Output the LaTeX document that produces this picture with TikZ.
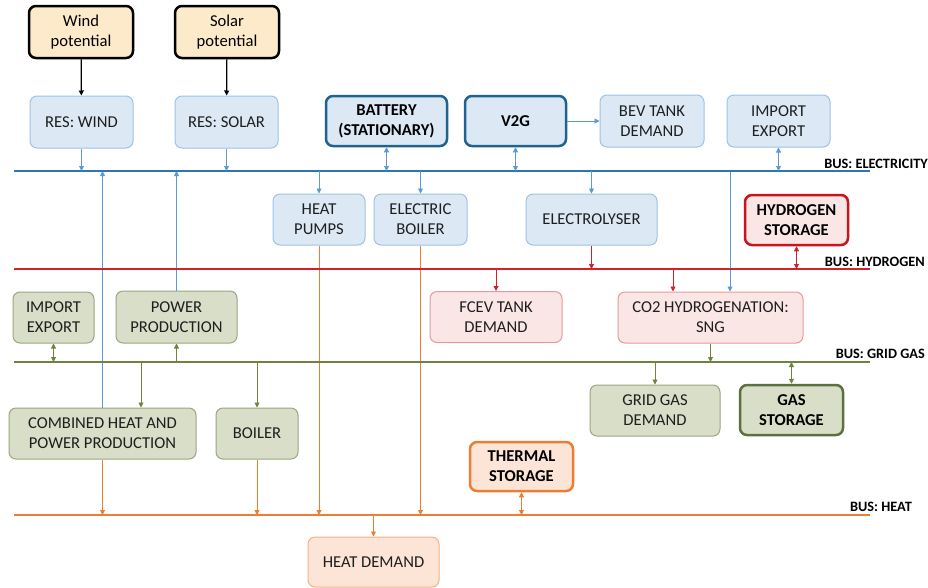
\documentclass[tikz,border=0pt]{standalone}
\usepackage{fontspec}
\setmainfont{Carlito}
\usetikzlibrary{arrows.meta}
\definecolor{elec}{HTML}{2E75B6}
\definecolor{elecl}{HTML}{5B9BD5}
\definecolor{hyd}{HTML}{D42027}
\definecolor{gas}{HTML}{6F8240}
\definecolor{heat}{HTML}{ED7D31}
\definecolor{bluefill}{HTML}{DCE9F5}
\definecolor{blueedge}{HTML}{9DC3E6}
\definecolor{blueedgeD}{HTML}{1F6391}
\definecolor{greenfill}{HTML}{D8DEC8}
\definecolor{greenedge}{HTML}{9AA77F}
\definecolor{greenedgeD}{HTML}{5E7040}
\definecolor{pinkfill}{HTML}{FBE6E6}
\definecolor{pinkedge}{HTML}{E49A9A}
\definecolor{pinkedgeD}{HTML}{C8151C}
\definecolor{orfill}{HTML}{FCE4D6}
\definecolor{oredge}{HTML}{F4B183}
\definecolor{tanfill}{HTML}{FCEACB}
\definecolor{txt}{HTML}{1E1E1E}
\tikzset{
  box/.style={rounded corners=7pt, align=center, font=\fontsize{16.6}{20}\selectfont, text=txt, inner sep=2pt},
  bluebox/.style={box, fill=bluefill, draw=blueedge, line width=1pt},
  blueboxD/.style={box, fill=bluefill, draw=blueedgeD, line width=2.5pt, font=\fontsize{16.6}{20}\selectfont\bfseries, text=black},
  greenbox/.style={box, fill=greenfill, draw=greenedge, line width=1pt},
  greenboxD/.style={box, fill=greenfill, draw=greenedgeD, line width=2.5pt, font=\fontsize{16.6}{20}\selectfont\bfseries, text=black},
  pinkbox/.style={box, fill=pinkfill, draw=pinkedge, line width=1pt},
  pinkboxD/.style={box, fill=pinkfill, draw=pinkedgeD, line width=2.5pt, font=\fontsize{16.6}{20}\selectfont\bfseries, text=black},
  orbox/.style={box, fill=orfill, draw=oredge, line width=1pt},
  orboxD/.style={box, fill=orfill, draw=heat, line width=2.5pt, font=\fontsize{16.6}{20}\selectfont\bfseries, text=black},
  tanbox/.style={box, fill=tanfill, draw=black, line width=2.5pt, text=black},
  bus/.style={line width=2.7pt},
  buslabel/.style={font=\fontsize{14.3}{15}\selectfont\bfseries, text=black, inner sep=0pt, anchor=south east},
  tip/.style={-{Triangle[length=5pt,width=5pt]}},
  dtip/.style={{Triangle[length=5pt,width=5pt]}-{Triangle[length=5pt,width=5pt]}},
  con/.style={line width=0.9pt},
}
\begin{document}
\begin{tikzpicture}[x=1pt,y=-1pt]
\useasboundingbox (0,0) rectangle (928,587);
\fill[white] (0,0) rectangle (928,587);

% buses
\coordinate (eL) at (14,171);  \coordinate (eR) at (870,171);
\coordinate (hL) at (14,269);  \coordinate (hR) at (870,269);
\coordinate (gL) at (14,362);  \coordinate (gR) at (870,362);
\coordinate (tL) at (14,515);  \coordinate (tR) at (870,515);

% boxes
\node[tanbox, minimum width=104pt, minimum height=52pt] (windp) at (81,32) {Wind\\potential};
\node[tanbox, minimum width=104pt, minimum height=52pt] (solarp) at (227,32) {Solar\\potential};

\node[bluebox, minimum width=103pt, minimum height=52pt] (wind) at (81.5,122) {RES: WIND};
\node[bluebox, minimum width=103pt, minimum height=52pt] (solar) at (226.5,122) {RES: SOLAR};
\node[blueboxD, minimum width=121pt, minimum height=50pt] (batt) at (386.5,121) {BATTERY\\(STATIONARY)};
\node[blueboxD, minimum width=101pt, minimum height=50pt] (v2g) at (515.5,121) {V2G};
\node[bluebox, minimum width=104pt, minimum height=52pt] (bev) at (652,121) {BEV TANK\\DEMAND};
\node[bluebox, minimum width=103pt, minimum height=52pt] (impe) at (778.5,121) {IMPORT\\EXPORT};

\node[bluebox, minimum width=92pt, minimum height=51pt] (hp) at (319,219.5) {HEAT\\PUMPS};
\node[bluebox, minimum width=93pt, minimum height=51pt] (eb) at (420.5,219.5) {ELECTRIC\\BOILER};
\node[bluebox, minimum width=131pt, minimum height=51pt] (ely) at (591.5,219.5) {ELECTROLYSER};
\node[pinkboxD, minimum width=103pt, minimum height=50pt] (h2s) at (796.5,220) {HYDROGEN\\STORAGE};

\node[greenbox, minimum width=81pt, minimum height=51pt] (gimp) at (53.5,317.5) {IMPORT\\EXPORT};
\node[greenbox, minimum width=121pt, minimum height=52pt] (pp) at (176.5,317) {POWER\\PRODUCTION};
\node[pinkbox, minimum width=132pt, minimum height=51pt] (fcev) at (496,317) {FCEV TANK\\DEMAND};
\node[pinkbox, minimum width=185pt, minimum height=51pt] (co2) at (710.5,317.5) {CO2 HYDROGENATION:\\SNG};

\node[greenbox, minimum width=187pt, minimum height=51pt] (chp) at (102.5,433.5) {COMBINED HEAT AND\\POWER PRODUCTION};
\node[greenbox, minimum width=82pt, minimum height=51pt] (boil) at (257,433.5) {BOILER};
\node[greenbox, minimum width=130pt, minimum height=51pt] (ggd) at (655,410.5) {GRID GAS\\DEMAND};
\node[greenboxD, minimum width=103pt, minimum height=50pt] (gst) at (791.5,410) {GAS\\STORAGE};
\node[orboxD, minimum width=103pt, minimum height=49pt] (tst) at (521.5,466.5) {THERMAL\\STORAGE};
\node[orbox, minimum width=131pt, minimum height=50pt] (hd) at (373.5,562) {HEAT DEMAND};

% vertical long lines (drawn below buses)
\draw[con, elecl, tip] (chp.north) -- (chp.north |- eL);
\draw[con, elecl, tip] (pp.north) -- (pp.north |- eL);
\draw[con, heat, tip] (hp.south) -- (hp.south |- tL);
\draw[con, heat, tip] (eb.south) -- (eb.south |- tL);
\coordinate (co2top) at (730,171);
\draw[con, elecl, tip] (co2top) -- (co2top |- co2.north);

% buses
\draw[bus, elec] (eL) -- (eR);
\draw[bus, hyd] (hL) -- (hR);
\draw[bus, gas] (gL) -- (gR);
\draw[bus, heat] (tL) -- (tR);
\node[buslabel] (lbe) at (928,169) {BUS: ELECTRICITY};
\node[buslabel] (lbh) at (925,267) {BUS: HYDROGEN};
\node[buslabel] (lbg) at (925,359) {BUS: GRID GAS};
\node[buslabel] (lbt) at (912,512) {BUS: HEAT};

% potentials
\draw[line width=1.3pt, black, tip] (windp) -- (wind);
\draw[line width=1.3pt, black, tip] (solarp) -- (solar);

% electricity connections
\draw[con, elecl, tip] (wind.south) -- (wind.south |- eL);
\draw[con, elecl, tip] (solar.south) -- (solar.south |- eL);
\draw[con, elecl, dtip] (batt.south) -- (batt.south |- eL);
\draw[con, elecl, dtip] (v2g.south) -- (v2g.south |- eL);
\draw[con, elecl, dtip] (impe.south) -- (impe.south |- eL);
\draw[con, elecl, tip] (v2g.east) -- (bev.west);
\draw[con, elecl, tip] (hp.north |- eL) -- (hp.north);
\draw[con, elecl, tip] (eb.north |- eL) -- (eb.north);
\draw[con, elecl, tip] (ely.north |- eL) -- (ely.north);

% hydrogen
\draw[con, hyd, tip] (ely.south) -- (ely.south |- hL);
\draw[con, hyd, dtip] (h2s.south) -- (h2s.south |- hL);
\draw[con, hyd, tip] (fcev.north |- hL) -- (fcev.north);
\coordinate (co2h) at (673,269);
\draw[con, hyd, tip] (co2h) -- (co2h |- co2.north);

% gas
\draw[con, gas, dtip] (gimp.south) -- (gimp.south |- gL);
\draw[con, gas, tip] (pp.south |- gL) -- (pp.south);
\draw[con, gas, tip] (co2.south) -- (co2.south |- gL);
\coordinate (chpg) at (141,362);
\draw[con, gas, tip] (chpg) -- (chpg |- chp.north);
\draw[con, gas, tip] (boil.north |- gL) -- (boil.north);
\draw[con, gas, tip] (ggd.north |- gL) -- (ggd.north);
\draw[con, gas, dtip] (gst.north |- gL) -- (gst.north);

% heat
\draw[con, heat, tip] (chp.south) -- (chp.south |- tL);
\draw[con, heat, tip] (boil.south) -- (boil.south |- tL);
\draw[con, heat, dtip] (tst.south) -- (tst.south |- tL);
\draw[con, heat, tip] (hd.north |- tL) -- (hd.north);
\end{tikzpicture}
\end{document}
